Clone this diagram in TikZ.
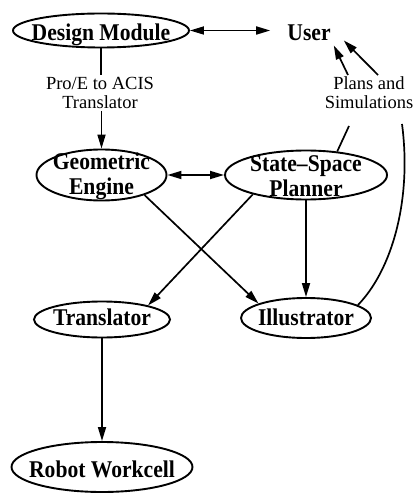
\documentclass[tikz,border=0pt]{standalone}
\usepackage{fontspec}
\setmainfont{Liberation Serif}[FakeStretch=0.9]
\newfontfamily\labelfont{Liberation Serif}
\usetikzlibrary{shapes.geometric,arrows.meta,calc}
\begin{document}
\begin{tikzpicture}[x=1pt,y=-1pt,
  oval/.style={draw, ellipse, line width=1.9pt, inner sep=0pt},
  ntext/.style={font=\fontsize{24}{25}\selectfont\bfseries, align=center, inner sep=1pt},
  ltext/.style={font=\labelfont\fontsize{18.5}{19}\selectfont, align=center, inner sep=2pt},
  conn/.style={line width=1.7pt},
  arr/.style={conn, -{Triangle[length=14pt,width=8pt]}},
  dbl/.style={conn, {Triangle[length=14pt,width=8pt]}-{Triangle[length=14pt,width=8pt]}},
]
\useasboundingbox (0,0) rectangle (413,494);

% modules
\node[oval, minimum width=176pt, minimum height=34pt] (dm) at (101,30.5) {};
\node[ntext, anchor=base] (dmt) at (101,41) {Design Module};
\node[ntext, anchor=base] (user) at (309,41) {User};
\node[ltext] (lab1) at (100,93) {Pro/E to ACIS\\Translator};

\node[oval, minimum width=130pt, minimum height=51pt] (ge) at (101.5,175) {};
\node[ntext] (get) at (101.5,176) {Geometric\\Engine};
\node[oval, minimum width=162pt, minimum height=49pt] (ssp) at (306,175) {};
\node[ntext] (sspt) at (306,176) {State–Space\\Planner};
\node[ltext] (lab2) at (369,93) {Plans and\\Simulations};

\node[oval, minimum width=136pt, minimum height=36pt] (tr) at (102,319.5) {};
\node[ntext, anchor=base] (trt) at (102,325) {Translator};
\node[oval, minimum width=130pt, minimum height=40pt] (il) at (306,318) {};
\node[ntext, anchor=base] (ilt) at (306,325) {Illustrator};

\node[oval, minimum width=181pt, minimum height=50pt] (rw) at (102,467) {};
\node[ntext, anchor=base] (rwt) at (102,477) {Robot Workcell};

% free ends near the "Plans and Simulations" label
\coordinate (pin1) at (349,126);
\coordinate (pin2) at (402,124);
\coordinate (pout1) at (348,75);
\coordinate (pout2) at (378,75);
\coordinate (u1) at ([shift={(2,3)}]user.south east);
\coordinate (u2) at ([shift={(12,-2)}]user.south east);

% connectors
\draw[dbl, shorten >=16pt] (dm.east) -- (dm.east -| user.west);
\draw[conn] (dm.south) -- (dm.south |- lab1.north);
\draw[arr] (ge.north |- lab1.south) -- (ge.north);
\draw[dbl] (ge.east) -- (ssp.west);
\draw[arr] (ge.-25) -- (il.163);
\draw[arr] (ssp.-160.5) -- (tr.17);
\draw[arr] (ssp.south) -- (il.north);
\draw[arr] (tr.south) -- (rw.north);
\draw[conn] (ssp.37) -- (pin1);
\draw[conn] (il.14) .. controls (392,270) and (412,200) .. (pin2);
\draw[arr] (pout1) -- (u1);
\draw[arr] (pout2) -- (u2);
\end{tikzpicture}
\end{document}
